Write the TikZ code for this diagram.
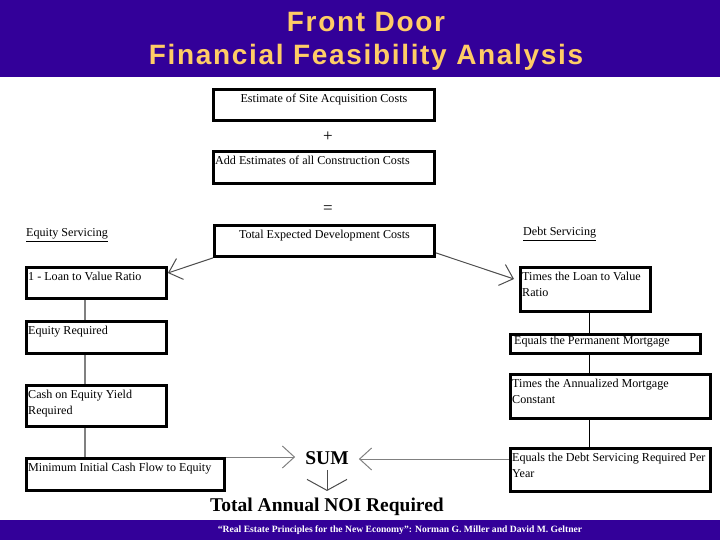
\documentclass[tikz,border=0pt]{standalone}
\usepackage{fontspec}
\setmainfont{Liberation Serif}
\newfontfamily\headfont[LetterSpace=6]{Liberation Sans}
\usetikzlibrary{arrows.meta, positioning}
\definecolor{barpurple}{RGB}{51,0,153}
\definecolor{titlegold}{RGB}{255,204,102}

\begin{document}
\begin{tikzpicture}[
					x=1pt, y=-1pt,
					box/.style={rectangle, draw=black, line width=2.9pt, anchor=north west, inner sep=0pt},
					boxtxt/.style={anchor=north west, inner xsep=3pt, inner ysep=5.5pt, align=left, font=\fontsize{12.1}{16}\selectfont},
					boxtop/.style={anchor=north, inner ysep=5.5pt, font=\fontsize{12.1}{16}\selectfont},
					sign/.style={font=\fontsize{17}{18}\selectfont},
					heading/.style={anchor=west, inner sep=0pt, font=\fontsize{12.1}{14}\selectfont},
					bigbold/.style={font=\fontsize{19.5}{22}\selectfont\bfseries},
					glink/.style={draw=gray, line width=2.6pt},
					blink/.style={draw=black, line width=1pt},
					arrow/.style={-{Straight Barb[length=12pt, width=22pt]}, line width=1pt, draw=gray!60!black},
					downarrow/.style={-{Straight Barb[length=11pt, width=40pt]}, line width=1pt, draw=gray!60!black}
					]
					\useasboundingbox (0,0) rectangle (720,540);
					\fill [barpurple] (0,0) rectangle (720,77);
					\fill [barpurple] (0,520) rectangle (720,540);
					\node (title) [align=center, text=titlegold, font=\headfont\bfseries\fontsize{28}{33}\selectfont] at (366,41) {Front Door\\Financial Feasibility Analysis};
					\node (source) [text=white, font=\fontsize{9.6}{10}\selectfont\bfseries] at (400,530) {“Real Estate Principles for the New Economy”: Norman G. Miller and David M. Geltner};
					
					\node (site) [box, minimum width=221, minimum height=31, label={[boxtop]north:Estimate of Site Acquisition Costs}] at (212,88) {};
					\node (plus) [sign] at (328,137) {+};
					\node (cons) [box, minimum width=221, minimum height=32, label={[boxtxt]north west:Add Estimates of all Construction Costs}] at (212,150) {};
					\node (equal) [sign] at (328,210) {=};
					\node (total) [box, minimum width=220, minimum height=31, label={[boxtop]north:Total Expected Development Costs}] at (213,224) {};
					
					\node (eqhead) [heading] at (26,235) {\underline{Equity Servicing}};
					\node (dbhead) [heading] at (523,234) {\underline{Debt Servicing}};
					
					\node (ratio) [box, minimum width=140, minimum height=31, label={[boxtxt]north west:1 - Loan to Value Ratio}] at (25,266) {};
					\node (eqreq) [box, minimum width=140, minimum height=32, label={[boxtxt]north west:Equity Required}] at (25,320) {};
					\node (cash) [box, minimum width=140, minimum height=41, label={[boxtxt]north west:{Cash on Equity Yield\\Required}}] at (25,384) {};
					\node (minflow) [box, minimum width=198, minimum height=32, label={[boxtxt]north west:Minimum Initial Cash Flow to Equity}] at (25,457) {};
					
					\node (ltv) [box, minimum width=130, minimum height=44, label={[boxtxt]north west:{Times the Loan to Value\\Ratio}}] at (519,266) {};
					\node (perm) [box, minimum width=190, minimum height=19, label={[boxtxt, inner ysep=3pt, inner xsep=5pt]north west:Equals the Permanent Mortgage}] at (509,333) {};
					\node (mconst) [box, minimum width=200, minimum height=44, label={[boxtxt]north west:{Times the Annualized Mortgage\\Constant}}] at (509,373) {};
					\node (debtsvc) [box, minimum width=200, minimum height=43, label={[boxtxt]north west:{Equals the Debt Servicing Required Per\\Year}}] at (509,447) {};
					
					\node (sum) [bigbold, inner xsep=10pt, inner ysep=5pt] at (327,458) {SUM};
					\node (noi) [bigbold, inner sep=2pt] at (327,507) {Total Annual NOI Required};
					
					\draw [glink] ([xshift=60]ratio.south west) -- ([xshift=60]eqreq.north west);
					\draw [glink] ([xshift=60]eqreq.south west) -- ([xshift=60]cash.north west);
					\draw [glink] ([xshift=60]cash.south west) -- ([xshift=60]minflow.north west);
					\draw [blink] ([xshift=70]ltv.south west) -- ([xshift=80]perm.north west);
					\draw [blink] ([xshift=80]perm.south west) -- ([xshift=80]mconst.north west);
					\draw [blink] ([xshift=80]mconst.south west) -- ([xshift=80]debtsvc.north west);
					
					\draw [arrow] (total.south west) -- ([yshift=-7]ratio.north east);
					\draw [arrow] ([yshift=5]total.south east) -- ([xshift=-5, yshift=-13]ltv.north west);
					\draw [arrow, draw=gray] (minflow.north east) -- (minflow.north east -| sum.west);
					\draw [arrow, draw=gray] ([yshift=-12]debtsvc.north west) -- ([yshift=-12]debtsvc.north west -| sum.east);
					\draw [downarrow, shorten >=5pt] (sum.south) -- (noi.north);
				\end{tikzpicture}
\end{document}
